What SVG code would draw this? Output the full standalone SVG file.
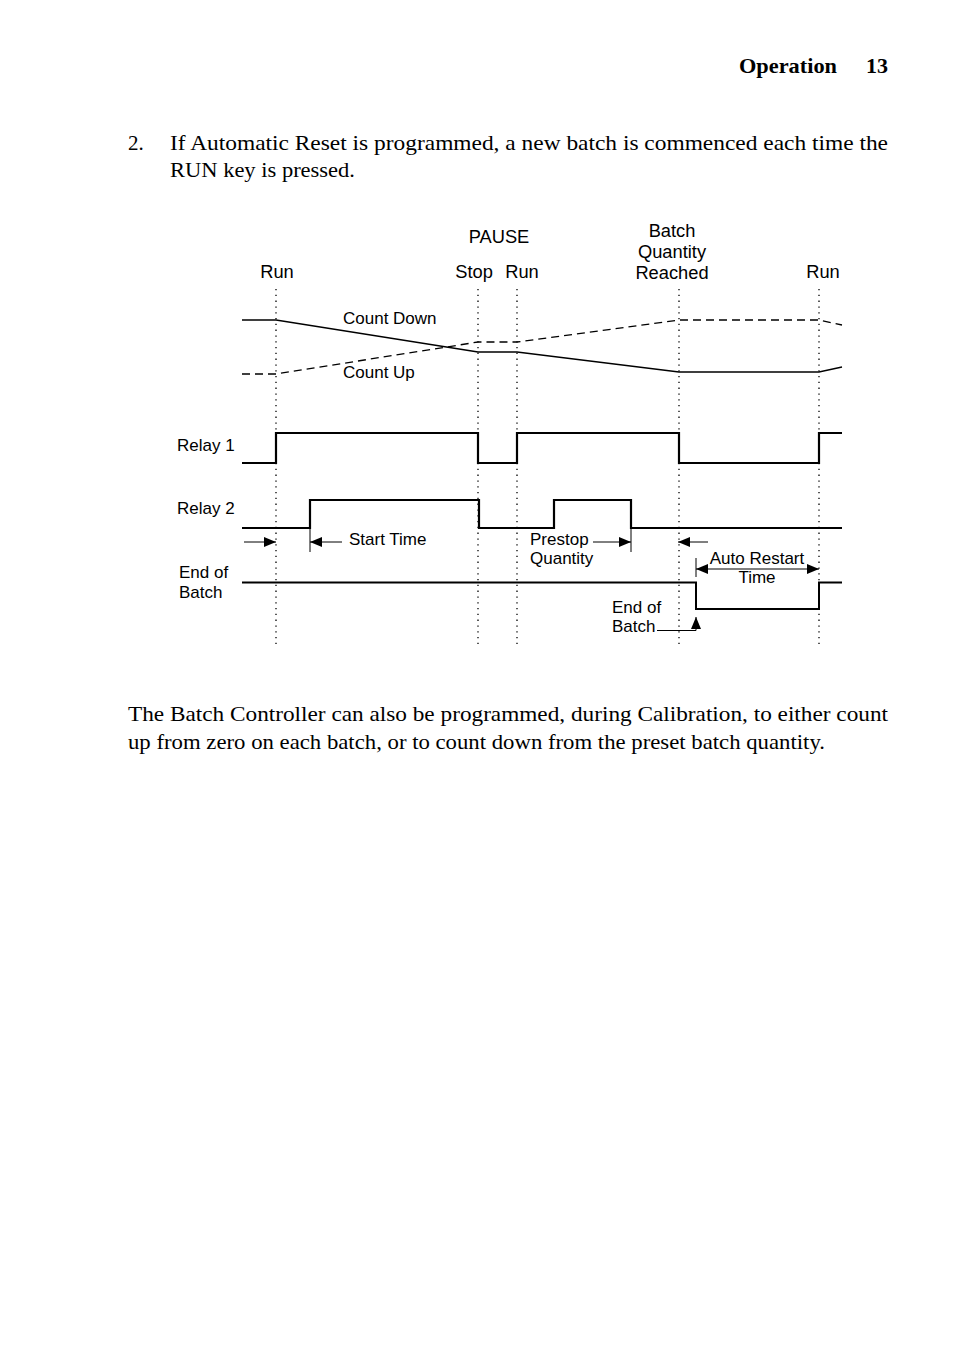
<svg xmlns="http://www.w3.org/2000/svg" width="954" height="1352" viewBox="0 0 954 1352">
<style>
.body{font-family:"Liberation Serif","Times New Roman",serif;font-size:21px;fill:#000}
.hdr{font-family:"Liberation Serif","Times New Roman",serif;font-size:21px;font-weight:bold;fill:#000}
.lbl{font-family:"Liberation Sans",Arial,sans-serif;font-size:17px;fill:#000}
.top{font-family:"Liberation Sans",Arial,sans-serif;font-size:18.3px;fill:#000}
.mid{text-anchor:middle}
.dot{stroke:#000;stroke-width:1.3;stroke-dasharray:1.3,4.5;fill:none}
.sig{stroke:#000;stroke-width:2.2;fill:none}
.eob{stroke:#000;stroke-width:2;fill:none}
.cnt{stroke:#000;stroke-width:1.3;fill:none}
.dash{stroke:#000;stroke-width:1.3;fill:none;stroke-dasharray:8,5}
.arr{stroke:#000;stroke-width:1;fill:none}
.tick{stroke:#000;stroke-width:1;fill:none}
</style>
<defs>
<marker id="ah" markerUnits="userSpaceOnUse" markerWidth="12" markerHeight="10" refX="12" refY="5" orient="auto-start-reverse" viewBox="0 0 12 10">
<path d="M0,0 L12,5 L0,10 z" fill="#000"/>
</marker>
</defs>
<rect width="954" height="1352" fill="#fff"/>

<g id="header">
<text class="hdr" x="739" y="73" textLength="98" lengthAdjust="spacingAndGlyphs">Operation</text>
<text class="hdr" x="866" y="73" textLength="22" lengthAdjust="spacingAndGlyphs">13</text>
</g>

<g id="para1">
<text class="body" x="128" y="150">2.</text>
<text class="body" x="170" y="150" textLength="718" lengthAdjust="spacingAndGlyphs">If Automatic Reset is programmed, a new batch is commenced each time the</text>
<text class="body" x="170" y="177" textLength="185" lengthAdjust="spacingAndGlyphs">RUN key is pressed.</text>
</g>

<g id="event-labels">
<text class="top" x="277" y="278" text-anchor="middle">Run</text>
<text class="top" x="499" y="243" text-anchor="middle">PAUSE</text>
<text class="top" x="474" y="278" text-anchor="middle">Stop</text>
<text class="top" x="522" y="278" text-anchor="middle">Run</text>
<text class="top" x="672" y="237" text-anchor="middle">Batch</text>
<text class="top" x="672" y="258" text-anchor="middle">Quantity</text>
<text class="top" x="672" y="279" text-anchor="middle">Reached</text>
<text class="top" x="823" y="278" text-anchor="middle">Run</text>
</g>

<g id="markers-dotted">
<line class="dot" x1="276" y1="289" x2="276" y2="645"/>
<line class="dot" x1="478" y1="289" x2="478" y2="645"/>
<line class="dot" x1="517" y1="289" x2="517" y2="645"/>
<line class="dot" x1="679" y1="289" x2="679" y2="645"/>
<line class="dot" x1="819" y1="289" x2="819" y2="645"/>
</g>

<g id="count-down">
<polyline class="cnt" points="242,320 276,320 478,352 517,352 679,372 819,372 842,367"/>
<text class="lbl" x="343" y="324">Count Down</text>
</g>

<g id="count-up">
<polyline class="dash" points="242,374 276,374 478,342 517,342 679,320 819,320 842,325"/>
<text class="lbl" x="343" y="378">Count Up</text>
</g>

<g id="relay1">
<text class="lbl" x="177" y="451">Relay 1</text>
<polyline class="sig" points="242,463 276,463 276,433 478,433 478,463 517,463 517,433 679,433 679,463 819,463 819,433 842,433"/>
</g>

<g id="relay2">
<text class="lbl" x="177" y="514">Relay 2</text>
<polyline class="sig" points="242,528 310,528 310,500 479,500 479,528 554,528 554,500 631,500 631,528 842,528"/>
</g>

<g id="end-of-batch">
<text class="lbl" x="179" y="578">End of</text>
<text class="lbl" x="179" y="598">Batch</text>
<polyline class="eob" points="242,582.5 696,582.5 696,609 819,609 819,582.5 842,582.5"/>
</g>

<g id="connectors">
<line class="arr" x1="244" y1="542" x2="276" y2="542" marker-end="url(#ah)"/>
<line class="tick" x1="310" y1="528" x2="310" y2="552"/>
<line class="arr" x1="342" y1="542" x2="310" y2="542" stroke="#555" marker-end="url(#ah)"/>
<line class="tick" x1="631" y1="528" x2="631" y2="552"/>
<line class="arr" x1="593" y1="542" x2="631" y2="542" stroke="#555" marker-end="url(#ah)"/>
<line class="arr" x1="708" y1="542" x2="678" y2="542" stroke="#555" marker-end="url(#ah)"/>
<line class="tick" x1="696" y1="558" x2="696" y2="577"/>
<line class="arr" x1="696" y1="569" x2="819" y2="569" marker-start="url(#ah)" marker-end="url(#ah)"/>
<polyline class="arr" points="657,630.5 696,630.5 696,617" marker-end="url(#ah)"/>
</g>

<g id="annotations">
<text class="lbl" x="349" y="545">Start Time</text>
<text class="lbl" x="530" y="545">Prestop</text>
<text class="lbl" x="530" y="564">Quantity</text>
<text class="lbl" x="757" y="564" text-anchor="middle">Auto Restart</text>
<text class="lbl" x="757" y="583" text-anchor="middle">Time</text>
<text class="lbl" x="612" y="613">End of</text>
<text class="lbl" x="612" y="632">Batch</text>
</g>

<g id="para2">
<text class="body" x="128" y="721" textLength="760" lengthAdjust="spacingAndGlyphs">The Batch Controller can also be programmed, during Calibration, to either count</text>
<text class="body" x="128" y="749" textLength="697" lengthAdjust="spacingAndGlyphs">up from zero on each batch, or to count down from the preset batch quantity.</text>
</g>
</svg>
